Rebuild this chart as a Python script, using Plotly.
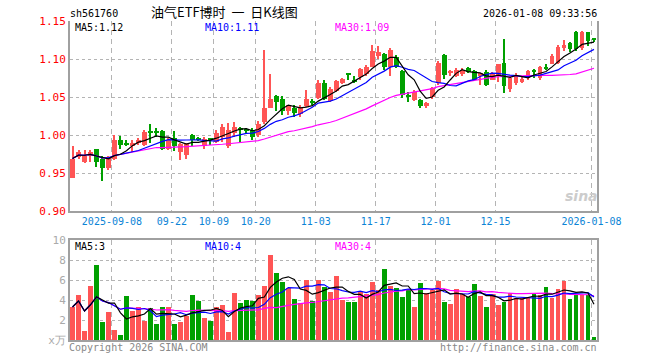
import plotly.graph_objects as go
import pandas as pd

# ---------------- data ----------------
tick_idx = [7, 17, 24, 31, 41, 51, 61, 71, 87]
tick_labels = ["2025-09-08", "09-22", "10-09", "10-20", "11-03", "11-17", "12-01", "12-15", "2026-01-08"]

open_ = [0.944, 0.971, 0.965, 0.972, 0.981, 0.969, 0.956, 0.969, 0.994, 0.990,
         0.985, 0.990, 0.987, 1.004, 1.004, 1.005, 0.982, 0.996, 0.978, 0.974,
         1.000, 0.995, 0.985, 0.995, 0.991, 0.998, 0.985, 1.002, 1.008, 1.007,
         1.006, 1.000, 1.017, 1.036, 1.051, 1.047, 1.032, 1.036, 1.028, 1.038,
         1.045, 1.049, 1.069, 1.045, 1.058, 1.069, 1.080, 1.073, 1.076, 1.080,
         1.090, 1.104, 1.107, 1.089, 1.103, 1.084, 1.053, 1.046, 1.046, 1.038,
         1.050, 1.068, 1.105, 1.081, 1.078, 1.080, 1.088, 1.084, 1.077, 1.083,
         1.073, 1.079, 1.095, 1.061, 1.068, 1.070, 1.075, 1.084, 1.075, 1.089,
         1.094, 1.095, 1.115, 1.121, 1.136, 1.114, 1.135, 1.126]
high = [0.9855, 0.980, 0.980, 0.980, 0.982, 0.972, 0.973, 1.000, 0.999, 0.993,
        0.993, 0.996, 1.006, 1.015, 1.009, 1.007, 0.996, 1.005, 0.989, 0.990,
        1.001, 0.997, 0.998, 0.996, 1.0066, 1.015, 1.016, 1.0175, 1.011, 1.009,
        1.009, 1.018, 1.112, 1.080, 1.052, 1.051, 1.040, 1.0395, 1.0395, 1.059,
        1.047, 1.073, 1.073, 1.063, 1.072, 1.075, 1.080, 1.077, 1.088, 1.092,
        1.118, 1.117, 1.108, 1.114, 1.105, 1.086, 1.056, 1.059, 1.047, 1.044,
        1.063, 1.097, 1.106, 1.086, 1.088, 1.088, 1.090, 1.086, 1.082, 1.085,
        1.083, 1.094, 1.126, 1.077, 1.081, 1.076, 1.086, 1.087, 1.091, 1.093,
        1.106, 1.118, 1.125, 1.122, 1.137, 1.137, 1.136, 1.128]
low = [0.943, 0.969, 0.963, 0.964, 0.958, 0.939, 0.954, 0.967, 0.982, 0.985,
       0.978, 0.987, 0.985, 0.990, 0.998, 0.980, 0.980, 0.979, 0.967, 0.968,
       0.985, 0.992, 0.982, 0.987, 0.990, 0.991, 0.983, 0.998, 0.990, 1.002,
       0.994, 0.997, 1.015, 1.035, 1.031, 1.026, 1.026, 1.024, 1.024, 1.037,
       1.040, 1.048, 1.046, 1.044, 1.056, 1.067, 1.072, 1.069, 1.072, 1.078,
       1.089, 1.100, 1.085, 1.078, 1.088, 1.049, 1.043, 1.045, 1.036, 1.036,
       1.048, 1.066, 1.074, 1.077, 1.076, 1.078, 1.081, 1.071, 1.066, 1.064,
       1.072, 1.070, 1.055, 1.056, 1.066, 1.068, 1.072, 1.075, 1.073, 1.086,
       1.093, 1.094, 1.110, 1.109, 1.111, 1.112, 1.117, 1.123]
close = [0.969, 0.978, 0.973, 0.978, 0.964, 0.957, 0.971, 0.994, 0.987, 0.988,
         0.990, 0.994, 1.004, 1.003, 1.003, 0.982, 0.994, 0.986, 0.988, 0.990,
         0.993, 0.994, 0.995, 0.994, 1.003, 1.011, 1.007, 1.011, 1.007, 1.006,
         0.997, 1.015, 1.036, 1.047, 1.043, 1.032, 1.039, 1.029, 1.036, 1.047,
         1.042, 1.069, 1.048, 1.060, 1.071, 1.0737, 1.079, 1.071, 1.087, 1.090,
         1.110, 1.109, 1.090, 1.112, 1.090, 1.053, 1.051, 1.057, 1.038, 1.042,
         1.062, 1.095, 1.079, 1.084, 1.0855, 1.086, 1.083, 1.073, 1.081, 1.066,
         1.081, 1.093, 1.064, 1.075, 1.079, 1.074, 1.084, 1.083, 1.089, 1.088,
         1.104, 1.116, 1.119, 1.113, 1.113, 1.135, 1.124, 1.1255]
volume = [3.3, 4.5, 0.9, 5.4, 7.5, 1.8, 2.8, 1.0, 0.5, 4.4,
          2.9, 3.3, 1.9, 3.2, 1.6, 3.3, 3.3, 1.6, 1.8, 2.4,
          4.5, 3.9, 2.2, 1.9, 3.3, 3.5, 0.8, 4.7, 3.7, 4.0,
          3.9, 4.5, 5.4, 8.5, 6.7, 5.8, 5.2, 4.1, 3.7, 6.0,
          3.9, 6.0, 5.3, 4.8, 6.4, 4.0, 3.8, 3.8, 4.8, 4.6,
          5.8, 5.0, 7.1, 5.4, 5.2, 4.3, 5.0, 3.3, 5.7, 4.7,
          5.0, 5.9, 3.8, 3.6, 5.1, 4.6, 4.3, 5.6, 4.4, 3.3,
          4.6, 3.5, 3.8, 4.7, 4.2, 4.2, 4.2, 4.7, 4.5, 5.3,
          4.2, 5.1, 5.9, 4.1, 4.5, 4.5, 4.5, 0.3]

# ---------------- derived ----------------
n = len(close)
idx = list(range(n))
RED = "#ff5555"
GREEN = "#00a000"
up = [c >= o for o, c in zip(open_, close)]
colors = [RED if u else GREEN for u in up]

cs = pd.Series(close)
ma5 = cs.rolling(5, min_periods=1).mean()
ma10 = cs.rolling(10, min_periods=1).mean()
ma30 = cs.rolling(30, min_periods=1).mean()
vs = pd.Series(volume)
vma5 = vs.rolling(5, min_periods=1).mean()
vma10 = vs.rolling(10, min_periods=1).mean()
vma30 = vs.rolling(30, min_periods=1).mean()

MIN_BODY = 0.0015
body_base = [min(o, c) for o, c in zip(open_, close)]
body_h = [max(abs(c - o), MIN_BODY) for o, c in zip(open_, close)]
wick_h = [h - l for h, l in zip(high, low)]

FIG_W, FIG_H = 660, 360
L, R, T, B = 70, 597, 21, 340
def px(x):
    return (x - L) / (R - L)
def py(y):
    return (B - y) / (B - T)

MONO = "DejaVu Sans Mono"
GRID = "#b4b4b4"
AXL = "#a0a0a0"

fig = go.Figure()

fig.add_trace(go.Bar(x=idx, y=wick_h, base=low, width=0.17,
                     marker=dict(color=colors, line=dict(width=0)),
                     xaxis="x", yaxis="y", showlegend=False, hoverinfo="skip"))
fig.add_trace(go.Bar(x=idx, y=body_h, base=body_base, width=0.8,
                     marker=dict(color=colors, line=dict(width=0)),
                     xaxis="x", yaxis="y", showlegend=False))
for ser, col in [(ma30, "#ff00ff"), (ma10, "#0000ff"), (ma5, "#000000")]:
    fig.add_trace(go.Scatter(x=idx, y=ser, mode="lines",
                             line=dict(color=col, width=1.2),
                             xaxis="x", yaxis="y", showlegend=False, hoverinfo="skip"))

fig.add_trace(go.Bar(x=idx, y=volume, width=0.8,
                     marker=dict(color=colors, line=dict(width=0)),
                     xaxis="x2", yaxis="y2", showlegend=False))
for ser, col in [(vma30, "#ff00ff"), (vma10, "#0000ff"), (vma5, "#000000")]:
    fig.add_trace(go.Scatter(x=idx, y=ser, mode="lines",
                             line=dict(color=col, width=1.2),
                             xaxis="x2", yaxis="y2", showlegend=False, hoverinfo="skip"))

tickvals_x = [i - 0.42 for i in tick_idx]
xrange = [-0.42, n - 0.5]

xcommon = dict(range=xrange, tickvals=tickvals_x, showgrid=True, gridcolor=GRID,
               griddash="5px,4px", gridwidth=1, zeroline=False, showline=True,
               linecolor=AXL, linewidth=2, ticks="")

main_yticks = [0.90, 0.95, 1.00, 1.05, 1.10, 1.15]
vol_yticks = [0, 2, 4, 6, 8, 10]
vol_ytext = ["x万", "2", "4", "6", "8", "10"]

fig.update_layout(
    width=FIG_W, height=FIG_H,
    margin=dict(l=L, r=FIG_W - R, t=T, b=FIG_H - B, pad=0, autoexpand=False),
    paper_bgcolor="white", plot_bgcolor="white",
    barmode="overlay", bargap=0,
    showlegend=False,
    xaxis=dict(xcommon, anchor="y", domain=[0, 1], ticktext=tick_labels,
               tickfont=dict(family=MONO, size=10, color="#0b84d6"), mirror=False),
    yaxis=dict(domain=[py(211), 1], range=[0.90, 1.15], tickvals=main_yticks,
               ticktext=["%.2f" % v for v in main_yticks],
               tickfont=dict(family=MONO, size=11, color="#ff0000"),
               showgrid=True, gridcolor=GRID, griddash="dot", zeroline=False,
               showline=True, mirror=True, linecolor=AXL, linewidth=2, ticks=""),
    xaxis2=dict(xcommon, anchor="y2", domain=[0, 1], showticklabels=False, mirror=True),
    yaxis2=dict(domain=[0, py(240)], range=[0, 10], tickvals=vol_yticks, ticktext=vol_ytext,
                tickfont=dict(family=MONO, size=11, color="#aaaaaa"),
                showgrid=True, gridcolor=GRID, griddash="dot", zeroline=False,
                showline=True, mirror=True, linecolor=AXL, linewidth=2, ticks=""),
)

def ann(text, x, y, color="#000000", size=10, xanchor="left", family=MONO):
    fig.add_annotation(text=text, x=px(x), y=py(y), xref="paper", yref="paper",
                       xanchor=xanchor, yanchor="middle", showarrow=False, borderpad=0,
                       font=dict(family=family, size=size, color=color))

ann("sh561760", 69, 13.5, size=10)
ann("油气ETF博时\u00a0 一 \u00a0日K线图", 150, 12, size=13, family="Noto Sans CJK SC")
ann("2026-01-08 09:33:56", 598, 13.5, size=10, xanchor="right")

ann("MA5:%.2f" % ma5.iloc[-1], 74, 27.5, size=10)
ann("MA10:%.2f" % ma10.iloc[-1], 204, 27.5, color="#0000ff", size=10)
ann("MA30:%.2f" % ma30.iloc[-1], 334, 27.5, color="#ff00ff", size=10)

ann("MA5:%d" % int(vma5.iloc[-1]), 74, 246.5, size=10)
ann("MA10:%d" % int(vma10.iloc[-1]), 204, 246.5, color="#0000ff", size=10)
ann("MA30:%d" % int(vma30.iloc[-1]), 334, 246.5, color="#ff00ff", size=10)

ann("Copyright 2026 SINA.COM", 68, 347.5, color="#888888", size=10)
ann("http://finance.sina.com.cn", 598, 347.5, color="#888888", size=10, xanchor="right")

ann("<b><i>sina</i></b>", 581, 196, color="#cccccc", size=14, xanchor="center",
    family="DejaVu Sans")

# remove the default 8px page margin so the 660x360 figure fills the window,
# and hide the hover mode bar
fig.write_html("out.html",
               config={"displayModeBar": False},
               post_script="document.body.style.margin='0px';document.body.style.padding='0px';")
